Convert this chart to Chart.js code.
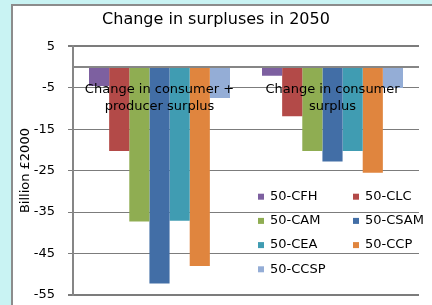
<!DOCTYPE html>
<html>
<head>
<meta charset="utf-8">
<script src="https://cdn.jsdelivr.net/npm/chart.js@4/dist/chart.umd.min.js"></script>
<style>
  html, body { margin: 0; padding: 0; }
  body {
    width: 432px; height: 305px; overflow: hidden;
    background: #c9f3f3;
    position: relative;
  }
  #frame {
    position: absolute; left: 11px; top: 4px;
    width: 421px; height: 301px;
    border-left: 2px solid #8c8c8c; border-top: 2px solid #8c8c8c;
    background: #fff;
  }
  canvas { display: block; }
</style>
</head>
<body>
<div id="frame"><canvas id="chart" width="419" height="299"></canvas></div>
<script>
const categories = [
  ['Change in consumer +', 'producer surplus'],
  ['Change in consumer', 'surplus']
];
const seriesNames = ['50-CFH', '50-CLC', '50-CAM', '50-CSAM', '50-CEA', '50-CCP', '50-CCSP'];
const seriesColors = ['#7d60a0', '#b34a48', '#8fad52', '#426ea6', '#409cb2', '#e0853e', '#94add6'];
const cfh  = [-4.6, -2.1];
const clc  = [-20.3, -11.9];
const cam  = [-37.3, -20.3];
const csam = [-52.2, -22.8];
const cea  = [-37.1, -20.3];
const ccp  = [-48.0, -25.5];
const ccsp = [-7.5, -5.1];
const seriesValues = [cfh, clc, cam, csam, cea, ccp, ccsp];
const yMin = -55, yMax = 5, yStep = 10;

const FONT = 'DejaVu Sans';
const GRID = '#7c7c7c';

// category labels drawn over the bars, just under the zero line
const catLabels = {
  id: 'catLabels',
  afterDatasetsDraw(chart) {
    const {ctx, scales: {x, y}, chartArea} = chart;
    const y0 = y.getPixelForValue(0);
    ctx.save();
    ctx.strokeStyle = '#868686';
    ctx.lineWidth = 2;
    ctx.beginPath();
    ctx.moveTo(chartArea.left, y0);
    ctx.lineTo(chartArea.right, y0);
    ctx.stroke();
    ctx.fillStyle = '#000';
    ctx.font = '13px "' + FONT + '"';
    ctx.textAlign = 'center';
    ctx.textBaseline = 'middle';
    categories.forEach((lines, i) => {
      const cx = x.getPixelForValue(i);
      lines.forEach((t, j) => ctx.fillText(t, cx, y0 + 23 + j * 16.7));
    });
    ctx.restore();
  }
};

// legend inside plot area, two columns
const insideLegend = {
  id: 'insideLegend',
  afterDraw(chart) {
    const {ctx} = chart;
    ctx.save();
    ctx.font = '13px "' + FONT + '"';
    ctx.textBaseline = 'middle';
    ctx.textAlign = 'left';
    chart.data.datasets.forEach((ds, i) => {
      const col = i % 2, row = Math.floor(i / 2);
      const bx = 245 + col * 95;
      const by = 190.7 + row * 24.2;
      ctx.fillStyle = ds.backgroundColor;
      ctx.fillRect(bx, by - 3, 6, 6);
      ctx.fillStyle = '#000';
      ctx.fillText(ds.label, bx + 12, by);
    });
    ctx.restore();
  }
};

new Chart(document.getElementById('chart'), {
  type: 'bar',
  data: {
    labels: categories,
    datasets: seriesNames.map((name, i) => ({
      label: name,
      data: seriesValues[i],
      backgroundColor: seriesColors[i],
      borderWidth: 0,
      categoryPercentage: 0.815,
      barPercentage: 1
    }))
  },
  options: {
    responsive: false,
    animation: false,
    layout: { padding: { left: 0, right: 13, top: 0, bottom: 10 } },
    plugins: {
      legend: { display: false },
      tooltip: { enabled: false },
      title: {
        display: true,
        text: 'Change in surpluses in 2050',
        color: '#000',
        font: { family: FONT, size: 16, weight: 'normal' },
        padding: { top: 4, bottom: 17 }
      }
    },
    scales: {
      x: { display: false },
      y: {
        min: yMin,
        max: yMax,
        afterFit(scale) {
          scale.width = 60;
          scale.paddingTop = 0;
          scale.paddingBottom = 0;
        },
        ticks: {
          stepSize: yStep,
          color: '#000',
          padding: 13,
          font: { family: FONT, size: 13 }
        },
        grid: {
          color: GRID,
          lineWidth: (c) => (c.tick && (c.tick.value === yMin || c.tick.value === yMax)) ? 2 : 1,
          tickLength: 5,
          tickColor: GRID
        },
        border: { color: '#868686', width: 2 },
        title: {
          display: true,
          text: 'Billion £2000',
          color: '#000',
          font: { family: FONT, size: 13 },
          padding: { top: 5, bottom: 0 }
        }
      }
    }
  },
  plugins: [catLabels, insideLegend]
});
</script>
</body>
</html>
